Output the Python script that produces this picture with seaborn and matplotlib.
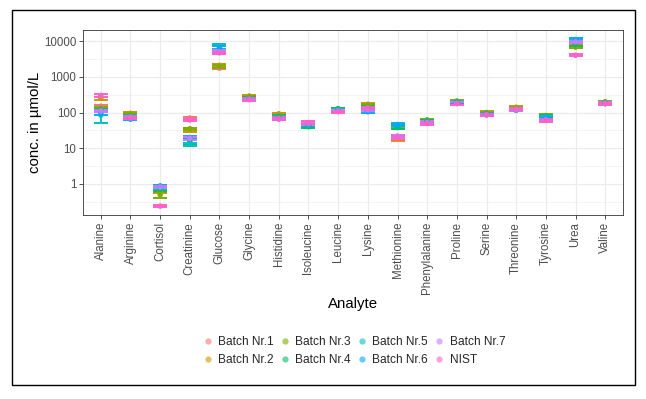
import matplotlib
matplotlib.use("Agg")
import matplotlib.pyplot as plt
import matplotlib.ticker as mticker
from matplotlib.lines import Line2D
from matplotlib.patches import Rectangle
import numpy as np
import pandas as pd
import seaborn as sns

analytes = ["Alanine", "Arginine", "Cortisol", "Creatinine", "Glucose", "Glycine",
            "Histidine", "Isoleucine", "Leucine", "Lysine", "Methionine",
            "Phenylalanine", "Proline", "Serine", "Threonine", "Tyrosine", "Urea", "Valine"]
batches = ["Batch Nr.1", "Batch Nr.2", "Batch Nr.3", "Batch Nr.4",
           "Batch Nr.5", "Batch Nr.6", "Batch Nr.7", "NIST"]
colors = ["#F8766D", "#CD9600", "#7CAE00", "#00BE67", "#00BFC4", "#00A9FF", "#C77CFF", "#FF61CC"]

b1_mean = [150, 85, 0.85, 70, 1750, 260, 75, 48, 115, 150, 18, 55, 190, 95, 130, 65, 9000, 190]
b2_mean = [250, 95, 0.62, 33, 2100, 290, 92, 45, 120, 170, 19, 60, 200, 100, 140, 70, 7000, 200]
b3_mean = [130, 90, 0.50, 35, 1950, 270, 80, 42, 125, 160, 40, 62, 210, 98, 135, 82, 6800, 195]
b4_mean = [120, 80, 0.70, 15, 7000, 250, 78, 40, 128, 140, 38, 58, 200, 92, 125, 80, 8000, 185]
b5_mean = [85, 72, 0.80, 13, 7200, 245, 72, 44, 118, 130, 46, 55, 190, 90, 120, 75, 10500, 185]
b6_mean = [95, 65, 0.88, 20, 6500, 240, 70, 46, 112, 105, 45, 54, 185, 88, 115, 70, 11000, 180]
b7_mean = [110, 75, 0.82, 19, 5000, 235, 65, 50, 110, 120, 22, 52, 180, 86, 120, 62, 9500, 180]
nist_mean = [300, 70, 0.24, 62, 4700, 230, 68, 52, 105, 135, 20, 50, 178, 85, 125, 60, 4000, 175]

b1_sd = [12, 7, 0.07, 6, 150, 20, 6, 4, 9, 12, 2, 4, 15, 7, 10, 5, 700, 14]
b2_sd = [20, 7, 0.06, 4, 200, 22, 7, 4, 10, 15, 2, 4, 14, 7, 11, 6, 600, 14]
b3_sd = [10, 7, 0.10, 3, 150, 20, 6, 3, 10, 12, 3, 4, 15, 7, 10, 6, 600, 14]
b4_sd = [9, 6, 0.06, 1.5, 1500, 20, 6, 3, 10, 11, 3, 4, 14, 7, 9, 7, 700, 13]
b5_sd = [33, 6, 0.07, 1.2, 1200, 18, 6, 3, 9, 10, 5, 4, 14, 6, 9, 6, 900, 13]
b6_sd = [8, 5, 0.07, 1.8, 800, 18, 5, 3, 8, 8, 4, 4, 13, 6, 8, 5, 900, 13]
b7_sd = [9, 6, 0.07, 1.6, 500, 18, 5, 4, 8, 10, 2, 4, 13, 6, 9, 5, 800, 13]
nist_sd = [25, 5, 0.02, 5, 400, 17, 5, 4, 8, 10, 2, 4, 13, 6, 9, 5, 300, 12]

means = [b1_mean, b2_mean, b3_mean, b4_mean, b5_mean, b6_mean, b7_mean, nist_mean]
sds = [b1_sd, b2_sd, b3_sd, b4_sd, b5_sd, b6_sd, b7_sd, nist_sd]

rows = []
for b, m, s in zip(batches, means, sds):
    for a, mv, sv in zip(analytes, m, s):
        rows.append({"Analyte": a, "Batch": b, "mean": mv, "sd": sv})
df = pd.DataFrame(rows)

sns.set_theme(style="white")
plt.rcParams["font.family"] = ["Liberation Sans", "DejaVu Sans"]

fig = plt.figure(figsize=(6.46, 3.99), dpi=100)
ax = fig.add_axes([83 / 646, 1 - 215 / 399, 540 / 646, 185 / 399])

palette = dict(zip(batches, colors))
ax.set_yscale("log")
for b in batches:
    sub = df[df["Batch"] == b]
    ax.errorbar(sub["Analyte"], sub["mean"], yerr=sub["sd"], fmt="none",
                ecolor=palette[b], elinewidth=1.3, capsize=5, capthick=1.4, zorder=3)
sns.scatterplot(data=df, x="Analyte", y="mean", hue="Batch", palette=palette,
                hue_order=batches, s=16, linewidth=0, ax=ax, legend=False, zorder=4)

ax.set_xlim(-0.6, len(analytes) - 0.4)
ax.set_ylim(10 ** -0.87, 10 ** 4.31)
ax.yaxis.set_major_locator(mticker.FixedLocator([1, 10, 100, 1000, 10000]))
ax.yaxis.set_major_formatter(mticker.FixedFormatter(["1", "10", "100", "1000", "10000"]))
ax.yaxis.set_minor_locator(mticker.FixedLocator([10 ** (k + 0.5) for k in range(-1, 5)]))
ax.yaxis.set_minor_formatter(mticker.NullFormatter())

ax.grid(True, which="major", color="#EBEBEB", linewidth=0.8, zorder=0)
ax.grid(True, which="minor", axis="y", color="#EBEBEB", linewidth=0.4, zorder=0)
ax.set_axisbelow(True)
for sp in ax.spines.values():
    sp.set_color("#333333")
    sp.set_linewidth(0.6)
ax.tick_params(axis="both", which="major", length=3, width=0.6, color="#333333",
               labelcolor="#4D4D4D", labelsize=8.3, pad=2, bottom=True, left=True)
ax.tick_params(axis="both", which="minor", length=0)
plt.setp(ax.get_xticklabels(), rotation=90, ha="center", va="top")

ax.set_xlabel("Analyte", fontsize=10.8, color="black", labelpad=2)
ax.set_ylabel("conc. in µmol/L", fontsize=10.8, color="black", labelpad=1)

handles = [Line2D([0], [0], marker="o", linestyle="none", markersize=4.5,
                  markerfacecolor=c, markeredgewidth=0, alpha=0.6, label=b)
           for b, c in zip(batches, colors)]
fig.legend(handles=handles, loc="center", bbox_to_anchor=(353 / 646, 1 - 351 / 399),
           ncol=4, frameon=False, fontsize=8.6, handletextpad=0.25, columnspacing=0.35,
           labelspacing=0.55, handlelength=1.2)

fig.add_artist(Rectangle((12 / 646, 1 - 385 / 399), 623 / 646, 375 / 399,
                         transform=fig.transFigure, fill=False, edgecolor="black", linewidth=1))

fig.savefig("out.png", dpi=100)
